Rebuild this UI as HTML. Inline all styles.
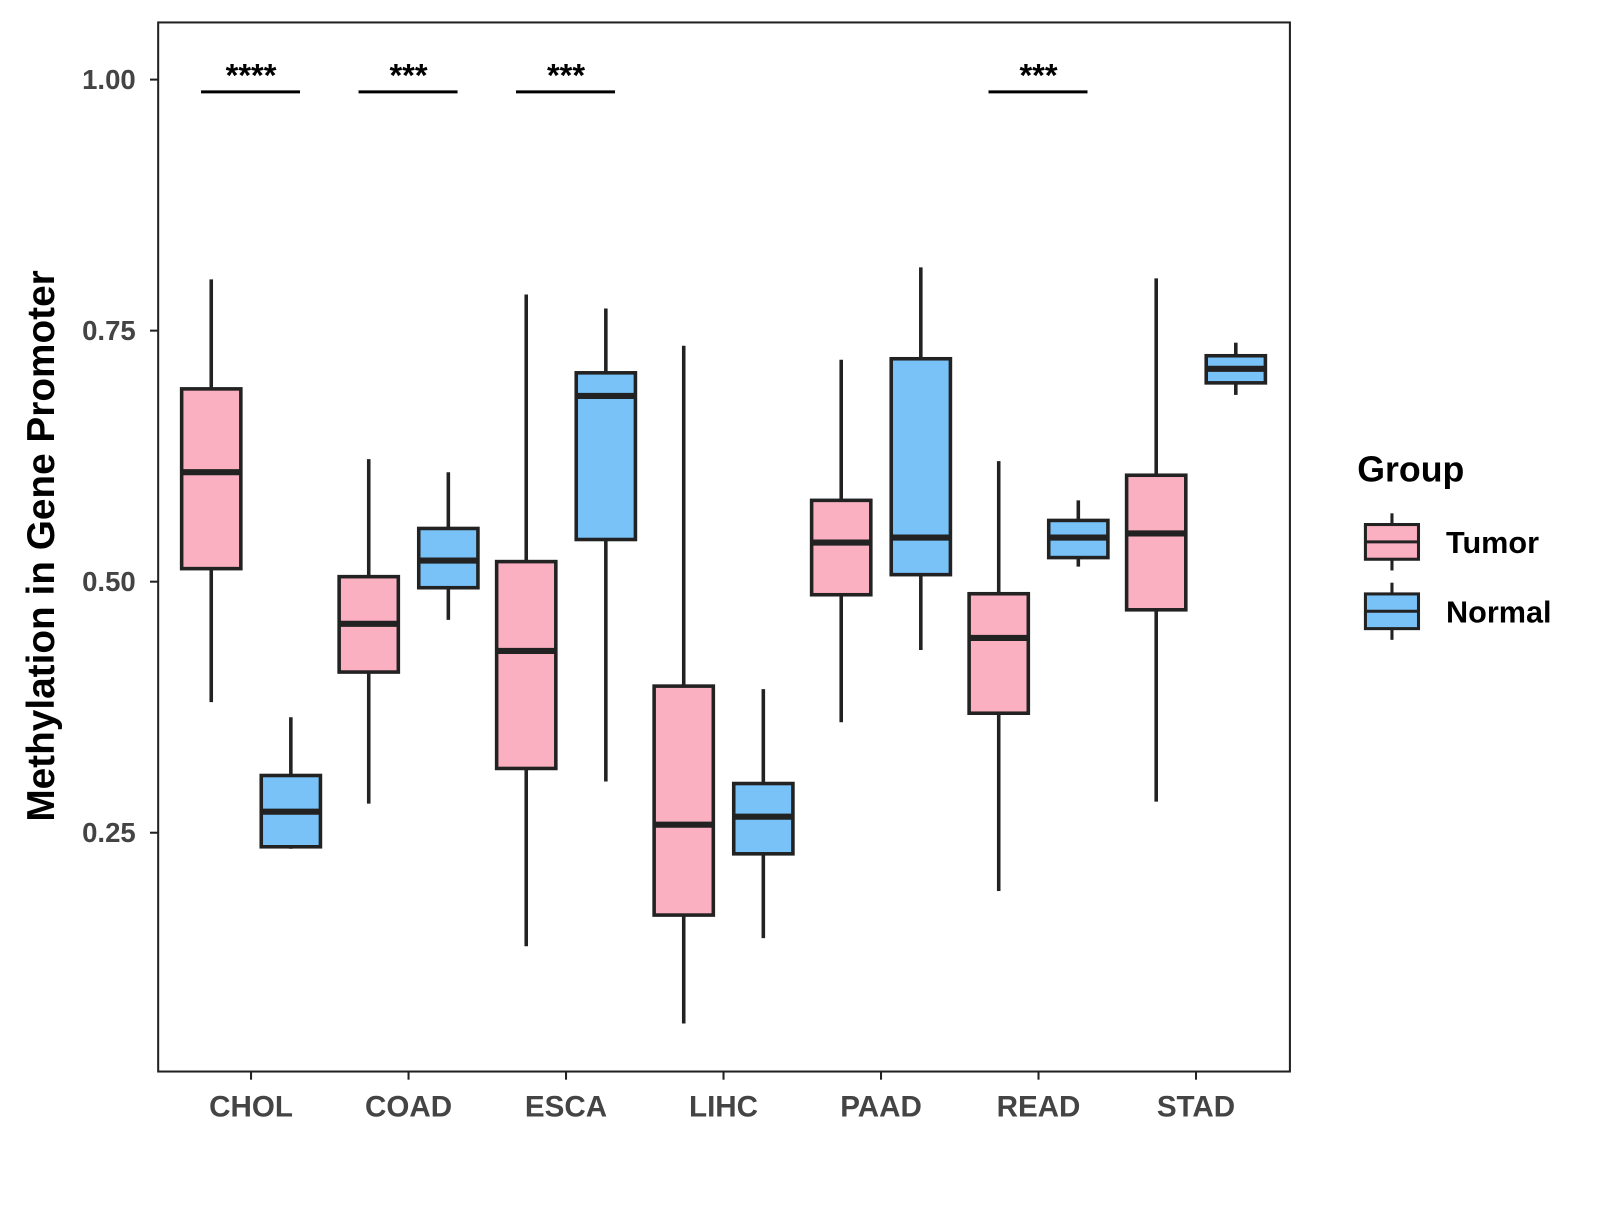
<!DOCTYPE html>
<html><head><meta charset="utf-8"><style>
body{margin:0;background:#fff}
text{font-family:"Liberation Sans",Arial,sans-serif;font-weight:bold}
</style></head><body>
<svg width="1600" height="1200" xmlns="http://www.w3.org/2000/svg">
<g id="chart" transform="scale(1.0205)">
<rect x="155" y="22" width="1109" height="1028" fill="#fff" stroke="#222" stroke-width="2"/>
<text transform="translate(53,535) rotate(-90)" text-anchor="middle" font-size="38" fill="#000">Methylation in Gene Promoter</text>
<g>
<text x="1330" y="472" font-size="35" fill="#000">Group</text>
<g>
<line x1="1364" y1="503" x2="1364" y2="559" stroke="#222" stroke-width="3"/>
<rect x="1338" y="514" width="52" height="34" fill="#FBB0C2" stroke="#222" stroke-width="3"/>
<line x1="1338" y1="531" x2="1390" y2="531" stroke="#222" stroke-width="3"/>
<text x="1417" y="542" font-size="30" fill="#000">Tumor</text></g>
<g>
<line x1="1364" y1="571" x2="1364" y2="627" stroke="#222" stroke-width="3"/>
<rect x="1338" y="582" width="52" height="34" fill="#79C2F8" stroke="#222" stroke-width="3"/>
<line x1="1338" y1="599" x2="1390" y2="599" stroke="#222" stroke-width="3"/>
<text x="1417" y="610" font-size="30" fill="#000">Normal</text></g>
</g>
</g>
</svg>
<script>
const categories=["CHOL","COAD","ESCA","LIHC","PAAD","READ","STAD"];
const yTicks=[0.25,0.5,0.75,1.0];
const yTickLabels=["0.25","0.50","0.75","1.00"];
// [low, q1, median, q3, high]
const tumorStats=[[0.380,0.513,0.609,0.692,0.801],[0.279,0.410,0.458,0.505,0.622],[0.137,0.314,0.431,0.520,0.786],[0.060,0.168,0.258,0.396,0.735],[0.360,0.487,0.539,0.581,0.721],[0.192,0.369,0.444,0.488,0.620],[0.281,0.472,0.548,0.606,0.802]];
const normalStats=[[0.234,0.236,0.271,0.307,0.365],[0.462,0.494,0.521,0.553,0.609],[0.301,0.542,0.685,0.708,0.772],[0.145,0.229,0.266,0.299,0.393],[0.432,0.507,0.544,0.722,0.813],[0.515,0.524,0.544,0.561,0.581],[0.686,0.698,0.712,0.725,0.738]];
const sigCats=["CHOL","COAD","ESCA","READ"];
const sigLabels=["****","***","***","***"];

const svg=document.getElementById('chart');
const NS="http://www.w3.org/2000/svg";
const y=v=>78+(1-v)*984;
const x=i=>246+i*154.33;
function mk(tag,attrs,parent){const e=document.createElementNS(NS,tag);for(const k in attrs)e.setAttribute(k,attrs[k]);(parent||svg).appendChild(e);return e;}

yTicks.forEach((t,i)=>{
  const tk=mk('line',{x1:147,x2:155,y1:y(t),y2:y(t),stroke:'#222','stroke-width':2});
  
  
  const lb=mk('text',{x:133,y:y(t)+9,'text-anchor':'end','font-size':27,fill:'#444'});
  lb.textContent=yTickLabels[i];
  
  
});
categories.forEach((c,i)=>{
  const tk=mk('line',{x1:x(i),x2:x(i),y1:1050,y2:1058,stroke:'#222','stroke-width':2});
  
  
  const lb=mk('text',{x:x(i),y:1094,'text-anchor':'middle','font-size':29,fill:'#444'});
  lb.textContent=c;
  
  
});
function box(s,cx,fill,name){
  const g=mk('g',{});
  
  
  const w=58;
  mk('line',{x1:cx,x2:cx,y1:y(s[4]),y2:y(s[0]),stroke:'#222','stroke-width':3.5},g);
  mk('rect',{x:cx-w/2,y:y(s[3]),width:w,height:y(s[1])-y(s[3]),fill:fill,stroke:'#222','stroke-width':3.5},g);
  mk('line',{x1:cx-w/2,x2:cx+w/2,y1:y(s[2]),y2:y(s[2]),stroke:'#222','stroke-width':6},g);
}
categories.forEach((c,i)=>{
  box(tumorStats[i],x(i)-39,'#FBB0C2','box-tumor-'+c.toLowerCase());
  box(normalStats[i],x(i)+39,'#79C2F8','box-normal-'+c.toLowerCase());
});
sigCats.forEach((c,k)=>{
  const i=categories.indexOf(c);
  const ln=mk('line',{x1:x(i)-49,x2:x(i)+48,y1:90,y2:90,stroke:'#000','stroke-width':3});
  
  
  const t=mk('text',{x:x(i),y:85,'text-anchor':'middle','font-size':32,fill:'#000'});
  t.textContent=sigLabels[k];
  
  
});
</script>
</body></html>
